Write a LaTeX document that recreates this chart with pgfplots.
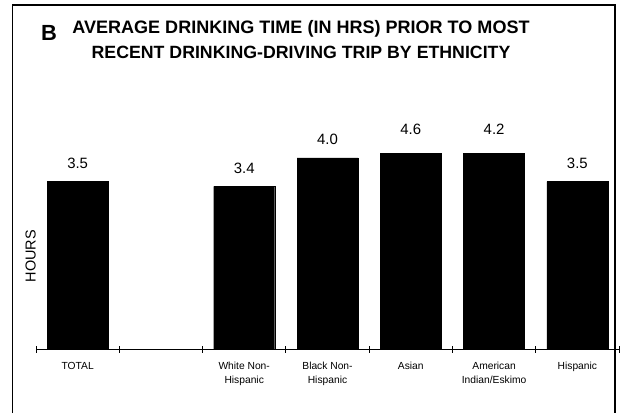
\documentclass[border=0pt]{standalone}
\usepackage{fontspec}
\setmainfont{Liberation Sans}
\usepackage{pgfplots}
\pgfplotsset{compat=1.18}

% hours by group; index 1 is an empty spacer slot
\pgfplotstableread{
x  hours
0  3.5
2  3.4
3  4.0
4  4.6
5  4.2
6  3.5
}\hourstable

\pgfplotsset{
  panel/.style={
    at={(36bp,64bp)}, anchor=south west,
    scale only axis, width=583bp, height=196bp,
    xmin=-0.5, xmax=6.5, ymin=0, ymax=4.1,
    ybar, bar width=61bp,
  },
}

\begin{document}
\begin{tikzpicture}[x=1bp,y=1bp]
\path[use as bounding box] (0,0) rectangle (623,413);
% outer frame, open at the bottom
\draw[line width=1.2bp] (12.5,0) -- (12.5,408) -- (615,408) -- (615,0);
% panel letter and title
\node[anchor=base west, inner sep=0, font=\bfseries\fontsize{22}{22}\selectfont] at (41,373) {B};
\node[anchor=base, inner sep=0, font=\bfseries\fontsize{18.1}{18.1}\selectfont] at (301,380) {AVERAGE DRINKING TIME (IN HRS) PRIOR TO MOST};
\node[anchor=base, inner sep=0, font=\bfseries\fontsize{17.8}{17.8}\selectfont] at (301,355) {RECENT DRINKING-DRIVING TRIP BY ETHNICITY};

% bars, cut off at the top of the plot area
\begin{axis}[
  panel,
  axis lines*=left,
  y axis line style={draw=none},
  axis line style={line width=0.8bp},
  ytick=\empty,
  xtick={0,2,3,4,5,6},
  xticklabels={TOTAL, White Non-\\Hispanic, Black Non-\\Hispanic, Asian, American\\Indian/Eskimo, Hispanic},
  xticklabel style={align=center, font=\fontsize{10.3}{14}\selectfont, yshift=-10bp},
  major tick length=0pt,
  minor xtick={-0.5,0.5,...,6.5},
  minor tick length=7bp,
  tick align=center,
  tick style={black, line width=0.8bp},
  ylabel=HOURS,
  ylabel style={at={(axis description cs:0,0.51)}, anchor=south, xshift=-7bp,
    inner sep=0, font=\fontsize{14.5}{14.5}\selectfont},
]
\addplot[fill=black, draw=black] table[x=x, y=hours] {\hourstable};
\end{axis}

% value labels, drawn without clipping; labels of cut bars sit a little above the cut
\begin{axis}[
  panel,
  hide axis, clip=false,
  nodes near coords={\pgfmathprintnumber[fixed,fixed zerofill,precision=1,assume math mode=true]{\pgfplotspointmeta}},
  visualization depends on={rawy \as \rawy},
  every node near coord/.append style={anchor=south, inner sep=0,
    font=\fontsize{15}{15}\selectfont,
    yshift={13+5*(\rawy>4.1)-47.8*max(\rawy-4.1,0)}},
]
\addplot[draw=none, fill=none] table[x=x, y=hours] {\hourstable};
\end{axis}
\end{tikzpicture}
\end{document}
